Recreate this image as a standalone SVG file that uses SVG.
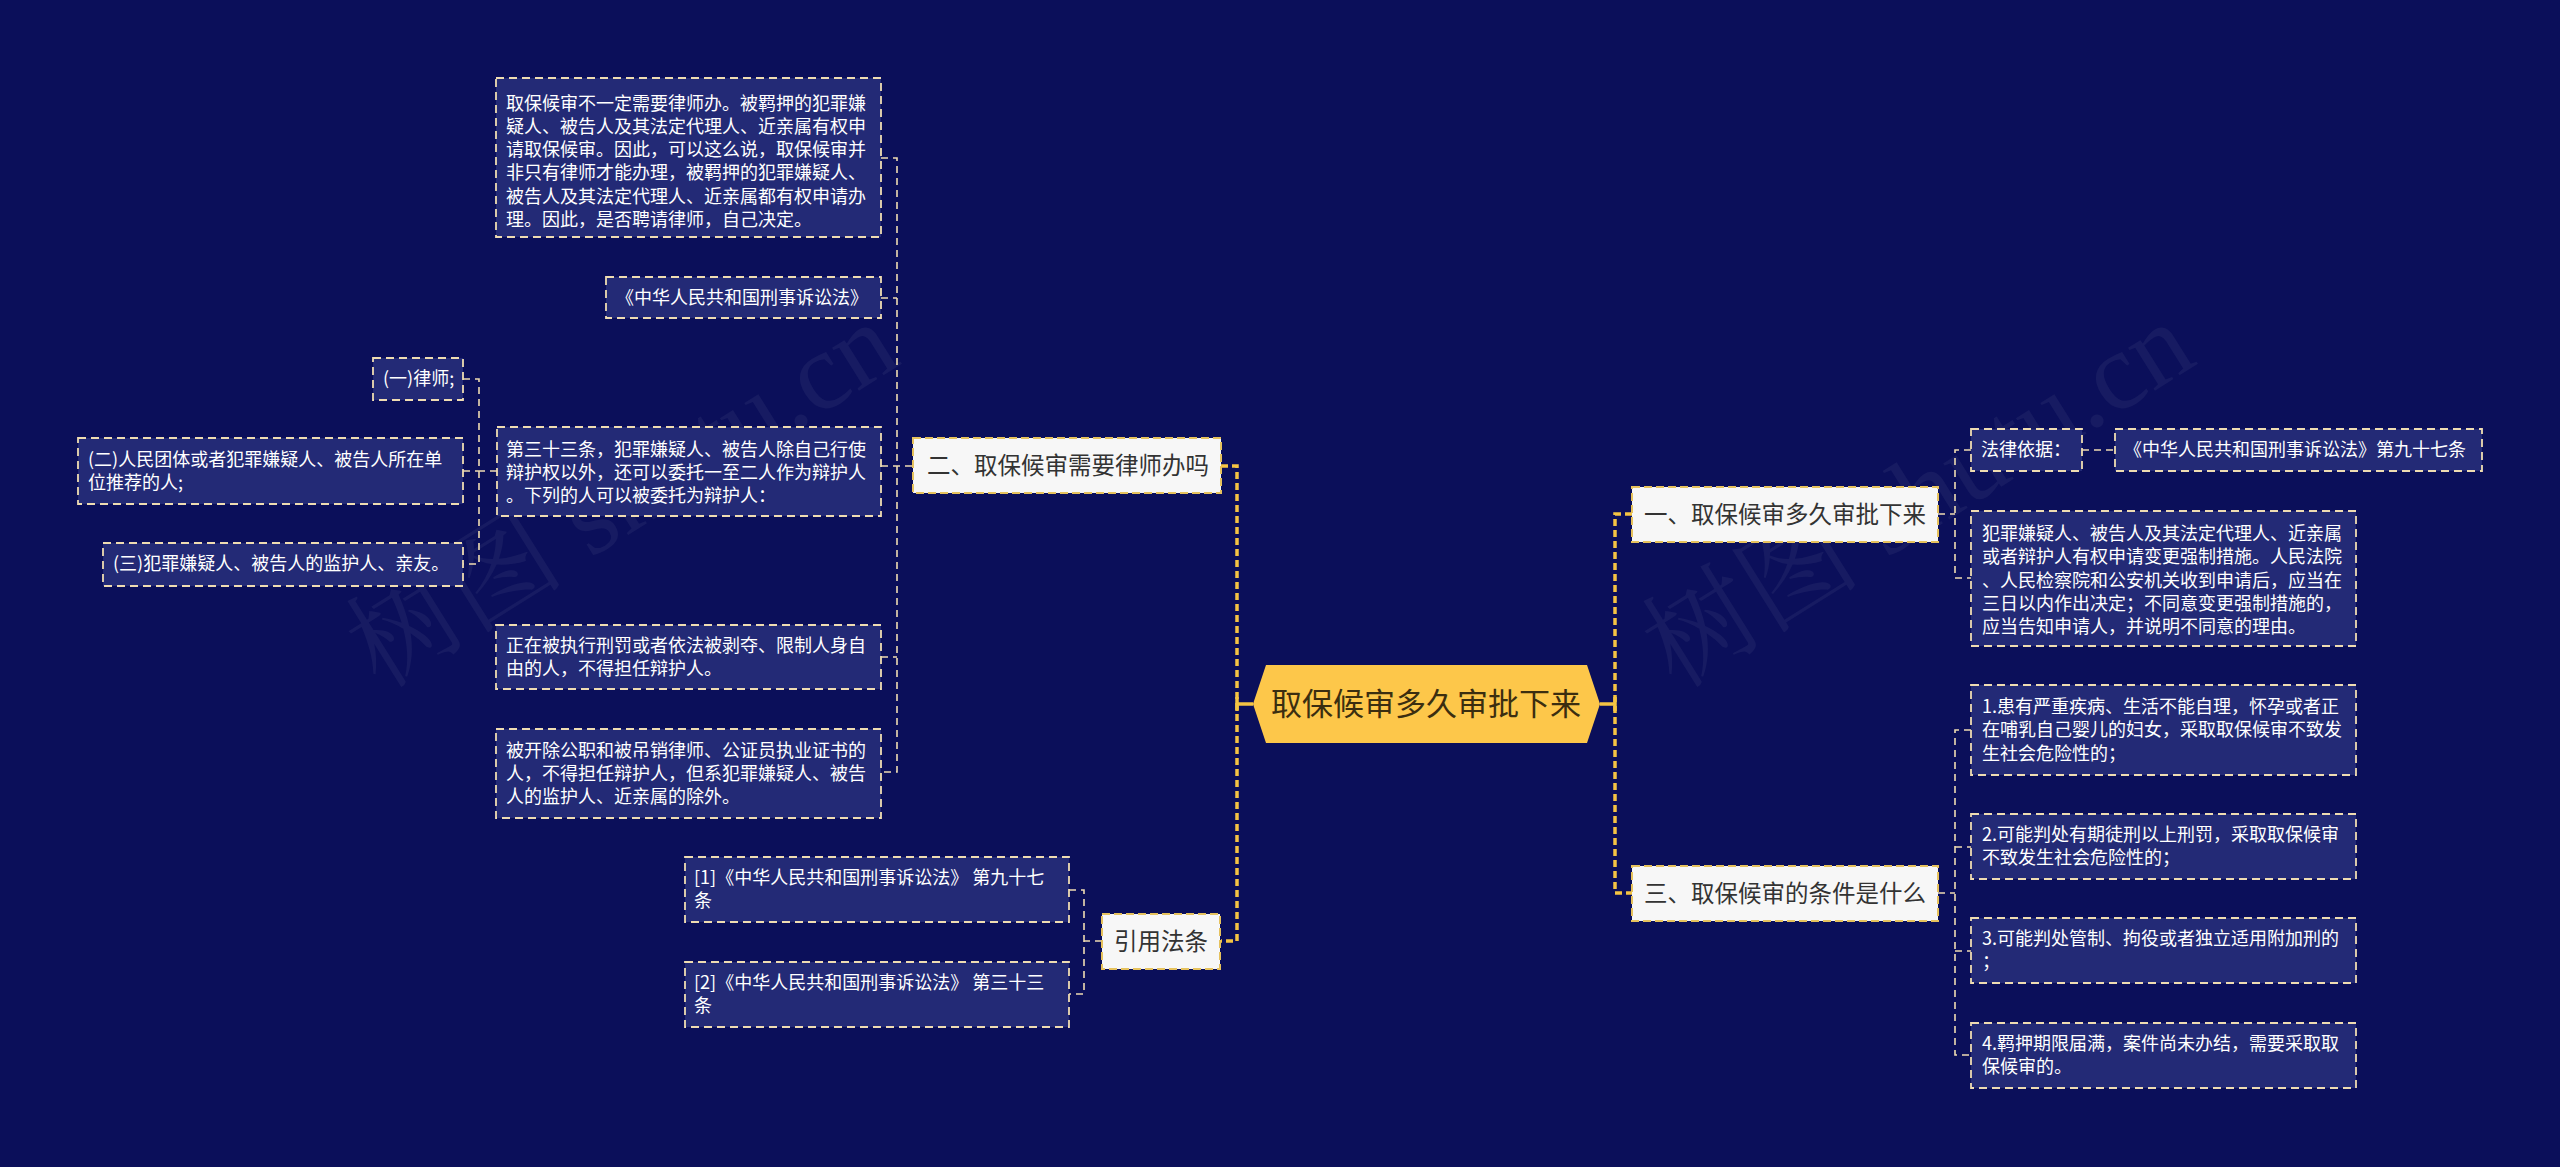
<svg xmlns="http://www.w3.org/2000/svg" width="2560" height="1167" viewBox="0 0 2560 1167">
<defs>
<style>
.bg{fill:#0b0f5a}
.leaf rect{fill:#232a76;stroke:#efdcb2;stroke-width:1.8;stroke-dasharray:8 5}
.leaf text{fill:#ffffff;font-family:"Noto Sans CJK SC","Noto Sans",sans-serif;font-size:18px}
.branch rect{fill:#f7f7f7;stroke:#e6c25e;stroke-width:2;stroke-dasharray:8 4}
.branch text{fill:#333333;font-family:"Noto Sans CJK SC","Noto Sans",sans-serif;font-size:23.5px}
.root polygon{fill:#fdc74a}
.root text{fill:#3b2e10;font-family:"Noto Sans CJK SC","Noto Sans",sans-serif;font-size:31px}
.main{fill:none;stroke:#f5c443;stroke-width:3.5;stroke-dasharray:7 4}
.solid{fill:none;stroke:#f5c443;stroke-width:3.5}
.thin{fill:none;stroke:#efdcb2;stroke-width:1.6;stroke-dasharray:7 5}
.wm{fill:#ffffff;fill-opacity:0.05;font-family:"Liberation Serif","Noto Serif CJK SC","Noto Sans CJK SC",serif;font-size:110px}
</style>
</defs>
<rect class="bg" x="0" y="0" width="2560" height="1167"/>
<g id="watermarks">
<text class="wm" transform="translate(380,690) rotate(-32)">树图 shutu.cn</text>
<text class="wm" transform="translate(1676,690) rotate(-32)">树图 shutu.cn</text>
</g>
<g id="connectors">
<path class="main" d="M1221,466 H1237 V941 H1221"/>
<path class="solid" d="M1237,704 H1253 M1237,697 V711"/>
<path class="main" d="M1632,514 H1615 V893 H1632"/>
<path class="solid" d="M1600,704 H1615 M1615,697 V711"/>
<path class="thin" d="M881,158 H897 V772 H881 M881,298 H897 M881,466 H913 M881,657 H897"/>
<path class="thin" d="M497,471 H479 M463,379 H479 V564 H463 M463,471 H479"/>
<path class="thin" d="M1102,941 H1084 M1069,890 H1084 V994 H1069"/>
<path class="thin" d="M1938,514 H1955 M1971,450 H1955 V578 H1971 M2082,450 H2115"/>
<path class="thin" d="M1938,893 H1955 M1971,730 H1955 V1055 H1971 M1955,847 H1971 M1955,951 H1971"/>
</g>
<g id="root" class="root">
<polygon points="1253,704 1266,665 1587,665 1600,704 1587,743 1266,743"/>
<text x="1426" y="715" text-anchor="middle">取保候审多久审批下来</text>
</g>
<g id="n-branch2" class="branch">
<rect x="913" y="438" width="308" height="55"/>
<text x="927" y="474">二、取保候审需要律师办吗</text>
</g>
<g id="n-cite" class="branch">
<rect x="1102" y="914" width="118" height="55"/>
<text x="1114" y="950">引用法条</text>
</g>
<g id="n-branch1" class="branch">
<rect x="1632" y="487" width="306" height="55"/>
<text x="1644" y="523">一、取保候审多久审批下来</text>
</g>
<g id="n-branch3" class="branch">
<rect x="1632" y="866" width="306" height="55"/>
<text x="1644" y="902">三、取保候审的条件是什么</text>
</g>
<g id="n-a" class="leaf">
<rect x="496" y="78" width="385" height="159"/>
<text x="506" y="110">取保候审不一定需要律师办。被羁押的犯罪嫌</text>
<text x="506" y="133">疑人、被告人及其法定代理人、近亲属有权申</text>
<text x="506" y="156">请取保候审。因此，可以这么说，取保候审并</text>
<text x="506" y="179">非只有律师才能办理，被羁押的犯罪嫌疑人、</text>
<text x="506" y="203">被告人及其法定代理人、近亲属都有权申请办</text>
<text x="506" y="226">理。因此，是否聘请律师，自己决定。</text>
</g>
<g id="n-b" class="leaf">
<rect x="606" y="277" width="275" height="41"/>
<text x="616" y="304">《中华人民共和国刑事诉讼法》</text>
</g>
<g id="n-c" class="leaf">
<rect x="497" y="427" width="384" height="89"/>
<text x="506" y="456">第三十三条，犯罪嫌疑人、被告人除自己行使</text>
<text x="506" y="479">辩护权以外，还可以委托一至二人作为辩护人</text>
<text x="506" y="502">。下列的人可以被委托为辩护人：</text>
</g>
<g id="n-c1" class="leaf">
<rect x="373" y="358" width="90" height="42"/>
<text x="383" y="385">(一)律师;</text>
</g>
<g id="n-c2" class="leaf">
<rect x="78" y="438" width="385" height="66"/>
<text x="88" y="466">(二)人民团体或者犯罪嫌疑人、被告人所在单</text>
<text x="88" y="489">位推荐的人;</text>
</g>
<g id="n-c3" class="leaf">
<rect x="103" y="543" width="360" height="43"/>
<text x="113" y="570">(三)犯罪嫌疑人、被告人的监护人、亲友。</text>
</g>
<g id="n-d" class="leaf">
<rect x="496" y="625" width="385" height="64"/>
<text x="506" y="652">正在被执行刑罚或者依法被剥夺、限制人身自</text>
<text x="506" y="675">由的人，不得担任辩护人。</text>
</g>
<g id="n-e" class="leaf">
<rect x="496" y="729" width="385" height="89"/>
<text x="506" y="757">被开除公职和被吊销律师、公证员执业证书的</text>
<text x="506" y="780">人，不得担任辩护人，但系犯罪嫌疑人、被告</text>
<text x="506" y="803">人的监护人、近亲属的除外。</text>
</g>
<g id="n-ref1" class="leaf">
<rect x="685" y="857" width="384" height="65"/>
<text x="694" y="884">[1]《中华人民共和国刑事诉讼法》 第九十七</text>
<text x="694" y="907">条</text>
</g>
<g id="n-ref2" class="leaf">
<rect x="685" y="962" width="384" height="65"/>
<text x="694" y="989">[2]《中华人民共和国刑事诉讼法》 第三十三</text>
<text x="694" y="1012">条</text>
</g>
<g id="n-law" class="leaf">
<rect x="1971" y="429" width="111" height="42"/>
<text x="1981" y="456">法律依据：</text>
</g>
<g id="n-law97" class="leaf">
<rect x="2115" y="429" width="367" height="42"/>
<text x="2124" y="456">《中华人民共和国刑事诉讼法》第九十七条</text>
</g>
<g id="n-f" class="leaf">
<rect x="1971" y="511" width="385" height="135"/>
<text x="1982" y="540">犯罪嫌疑人、被告人及其法定代理人、近亲属</text>
<text x="1982" y="563">或者辩护人有权申请变更强制措施。人民法院</text>
<text x="1982" y="587">、人民检察院和公安机关收到申请后，应当在</text>
<text x="1982" y="610">三日以内作出决定；不同意变更强制措施的，</text>
<text x="1982" y="633">应当告知申请人，并说明不同意的理由。</text>
</g>
<g id="n-g1" class="leaf">
<rect x="1971" y="685" width="385" height="90"/>
<text x="1982" y="713">1.患有严重疾病、生活不能自理，怀孕或者正</text>
<text x="1982" y="736">在哺乳自己婴儿的妇女，采取取保候审不致发</text>
<text x="1982" y="760">生社会危险性的；</text>
</g>
<g id="n-g2" class="leaf">
<rect x="1971" y="814" width="385" height="65"/>
<text x="1982" y="841">2.可能判处有期徒刑以上刑罚，采取取保候审</text>
<text x="1982" y="864">不致发生社会危险性的；</text>
</g>
<g id="n-g3" class="leaf">
<rect x="1971" y="918" width="385" height="65"/>
<text x="1982" y="945">3.可能判处管制、拘役或者独立适用附加刑的</text>
<text x="1982" y="968">；</text>
</g>
<g id="n-g4" class="leaf">
<rect x="1971" y="1023" width="385" height="65"/>
<text x="1982" y="1050">4.羁押期限届满，案件尚未办结，需要采取取</text>
<text x="1982" y="1073">保候审的。</text>
</g>
</svg>
